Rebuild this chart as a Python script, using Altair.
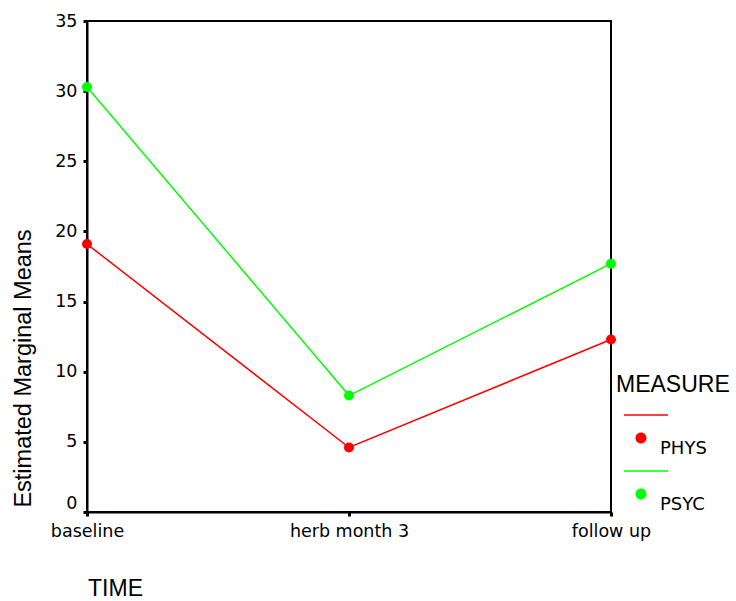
import altair as alt
import pandas as pd

times = ["baseline", "herb month 3", "follow up"]
phys = [19.1, 4.6, 12.3]
psyc = [30.3, 8.3, 17.7]
measures = ["PHYS", "PSYC"]
colors = ["#ff0000", "#00ff00"]

rows = []
for t, a, b in zip(times, phys, psyc):
    rows.append({"TIME": t, "MEASURE": "PHYS", "mean": a})
    rows.append({"TIME": t, "MEASURE": "PSYC", "mean": b})
df = pd.DataFrame(rows)

TFONT = "Liberation Sans"
LFONT = "DejaVu Sans"

x = alt.X("TIME:N", sort=times,
          scale=alt.Scale(type="point", padding=0),
          axis=alt.Axis(title="TIME", labelAngle=0, labelFontSize=17.5, labelFont=LFONT,
                        labelColor="black", labelPadding=6,
                        domainColor="black", domainWidth=2,
                        tickColor="black", tickSize=4, tickWidth=3,
                        titleFont=TFONT, titleFontSize=23, titleFontWeight="normal",
                        titleColor="black", titleX=28, titleY=88,
                        titleAlign="center", titleBaseline="bottom"))
y = alt.Y("mean:Q", scale=alt.Scale(domain=[0, 35], nice=False),
          axis=alt.Axis(title="Estimated Marginal Means", values=[0, 5, 10, 15, 20, 25, 30, 35],
                        grid=False, labelFontSize=17.5, labelFont=LFONT, labelColor="black",
                        labelPadding=6, domainColor="black", domainWidth=2,
                        labelBaseline=alt.expr("datum.value == 0 ? 'bottom' : 'middle'"),
                        tickColor="black", tickSize=4, tickWidth=3,
                        titleFont=TFONT, titleFontSize=23.5, titleFontWeight="normal",
                        titleColor="black", titleX=-64, titleY=347,
                        titleAlign="center", titleBaseline="middle", titleAngle=-90))

sym = ("M-0.636,-1.58L1.364,-1.58L1.364,-1.51L-0.636,-1.51Z "
       "M-0.114,-0.5A0.25,0.25,0,1,1,0.386,-0.5A0.25,0.25,0,1,1,-0.114,-0.5Z")

color_scale = alt.Scale(domain=measures, range=colors)

lines = alt.Chart(df).mark_line(strokeWidth=1.5).encode(
    x=x, y=y,
    color=alt.Color("MEASURE:N", scale=color_scale, legend=None),
    detail="MEASURE:N",
)
points = alt.Chart(df).mark_point(filled=True, size=100, opacity=1).encode(
    x=x, y=y,
    color=alt.Color("MEASURE:N", scale=color_scale,
                    legend=alt.Legend(title="MEASURE", orient="none", legendX=529, legendY=353,
                                      symbolType=sym, symbolSize=1936, symbolStrokeWidth=0,
                                      symbolOpacity=1,
                                      labelFont=LFONT, labelFontSize=18, labelColor="black",
                                      labelOffset=0, rowPadding=12,
                                      titleFont=TFONT, titleFontSize=23, titleFontWeight="normal",
                                      titleColor="black", titleBaseline="top", titlePadding=30,
                                      padding=0)),
)

chart = alt.layer(lines, points).resolve_legend(color="independent").properties(
    width=524, height=491,
    background="white",
    autosize=alt.AutoSizeParams(type="none"),
    padding={"left": 87, "top": 21, "right": 125, "bottom": 89},
).configure_view(stroke="black", strokeWidth=2)

chart.save("out.html", embed_options={"renderer": "svg", "actions": False})
